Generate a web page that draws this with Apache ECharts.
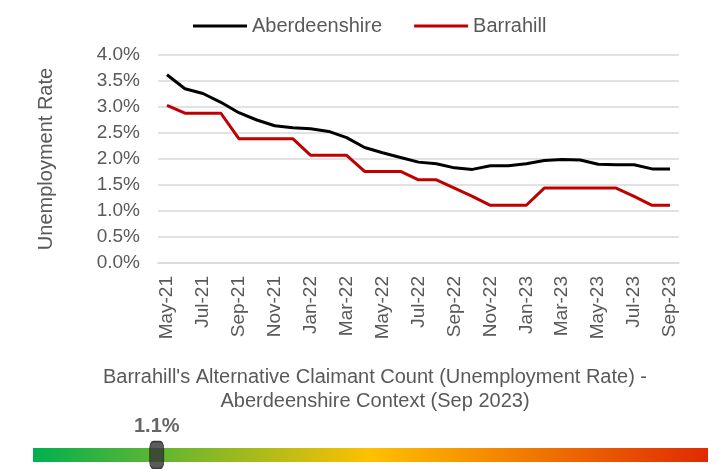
<!DOCTYPE html>
<html>
<head>
<meta charset="utf-8">
<script src="https://cdn.jsdelivr.net/npm/echarts@6/dist/echarts.min.js"></script>
<style>
  html, body { margin: 0; padding: 0; background: #fff; }
  #chart { width: 718px; height: 469px; }
</style>
</head>
<body>
<div id="chart"></div>
<script>
// monthly categories, May-21 .. Sep-23
var months = ['May-21', 'Jun-21', 'Jul-21', 'Aug-21', 'Sep-21', 'Oct-21', 'Nov-21', 'Dec-21',
    'Jan-22', 'Feb-22', 'Mar-22', 'Apr-22', 'May-22', 'Jun-22', 'Jul-22', 'Aug-22', 'Sep-22',
    'Oct-22', 'Nov-22', 'Dec-22', 'Jan-23', 'Feb-23', 'Mar-23', 'Apr-23', 'May-23', 'Jun-23',
    'Jul-23', 'Aug-23', 'Sep-23'];
var aberdeenshire = [3.62, 3.35, 3.26, 3.09, 2.89, 2.75, 2.64, 2.60, 2.58, 2.53, 2.41, 2.22,
    2.12, 2.03, 1.94, 1.91, 1.83, 1.80, 1.87, 1.87, 1.91, 1.97, 1.99, 1.98, 1.90, 1.89, 1.89,
    1.81, 1.81];
var barrahill = [3.03, 2.88, 2.88, 2.88, 2.39, 2.39, 2.39, 2.39, 2.07, 2.07, 2.07, 1.76,
    1.76, 1.76, 1.60, 1.60, 1.44, 1.28, 1.11, 1.11, 1.11, 1.44, 1.44, 1.44, 1.44, 1.44, 1.28,
    1.11, 1.11];
// context scale under the chart
var scaleMax = 6;
var currentValue = [1.1];

var font = 'Arial, "Liberation Sans", sans-serif';
var grey = '#595959';

var myChart = echarts.init(document.getElementById('chart'));

var option = {
    animation: false,
    textStyle: { fontFamily: font },
    title: {
        text: "Barrahill's Alternative Claimant Count (Unemployment Rate) -\nAberdeenshire Context (Sep 2023)",
        left: 370,
        textAlign: 'center',
        top: 360,
        textStyle: { color: grey, fontSize: 20, fontWeight: 'normal', lineHeight: 24, fontFamily: font }
    },
    legend: {
        left: 188,
        top: 11,
        icon: 'rect',
        itemWidth: 54,
        itemHeight: 3,
        itemGap: 32,
        textStyle: { color: grey, fontSize: 20 },
        data: ['Aberdeenshire', 'Barrahill']
    },
    grid: [
        { left: 158, right: 39, top: 55, bottom: 206 },
        { left: 33, right: 10, top: 448, height: 14 }
    ],
    xAxis: [
        {
            type: 'category',
            data: months,
            boundaryGap: true,
            axisLine: { lineStyle: { color: '#d9d9d9', width: 1.5 } },
            axisTick: { interval: 1, length: 6, lineStyle: { color: '#d9d9d9', width: 1.5 } },
            axisLabel: { interval: 1, rotate: 90, margin: 13, color: grey, fontSize: 19 }
        },
        { gridIndex: 1, type: 'value', min: 0, max: scaleMax, show: false }
    ],
    yAxis: [
        {
            type: 'value',
            min: 0,
            max: 4,
            interval: 0.5,
            name: 'Unemployment Rate',
            nameLocation: 'middle',
            nameGap: 102,
            nameTextStyle: { color: grey, fontSize: 20 },
            axisLine: { show: false },
            axisTick: { show: false },
            axisLabel: {
                margin: 18, color: grey, fontSize: 19,
                formatter: function (v) { return v.toFixed(1) + '%'; }
            },
            splitLine: { lineStyle: { color: '#d9d9d9', width: 1.5 } }
        },
        { gridIndex: 1, type: 'category', data: [''], show: false }
    ],
    series: [
        {
            name: 'Aberdeenshire',
            type: 'line',
            data: aberdeenshire,
            symbol: 'none',
            lineStyle: { color: '#000000', width: 3 },
            itemStyle: { color: '#000000' }
        },
        {
            name: 'Barrahill',
            type: 'line',
            data: barrahill,
            symbol: 'none',
            lineStyle: { color: '#c00000', width: 3 },
            itemStyle: { color: '#c00000' }
        },
        {
            type: 'bar',
            xAxisIndex: 1,
            yAxisIndex: 1,
            data: [scaleMax],
            barWidth: 14,
            silent: true,
            itemStyle: {
                color: new echarts.graphic.LinearGradient(0, 0, 1, 0, [
                    { offset: 0, color: '#00b050' },
                    { offset: 0.5, color: '#ffc000' },
                    { offset: 1, color: '#e02a00' }
                ])
            }
        },
        {
            type: 'scatter',
            xAxisIndex: 1,
            yAxisIndex: 1,
            data: currentValue.map(function (v) { return [v, 0]; }),
            symbol: 'roundRect',
            symbolSize: [14, 27],
            z: 5,
            itemStyle: { color: '#333333', borderColor: '#1a1a1a', borderWidth: 1 },
            label: {
                show: true,
                position: 'top',
                distance: 4,
                color: '#404040',
                fontSize: 20,
                fontWeight: 'bold',
                formatter: function (p) { return p.value[0].toFixed(1) + '%'; }
            }
        }
    ]
};

myChart.setOption(option);
</script>
</body>
</html>
